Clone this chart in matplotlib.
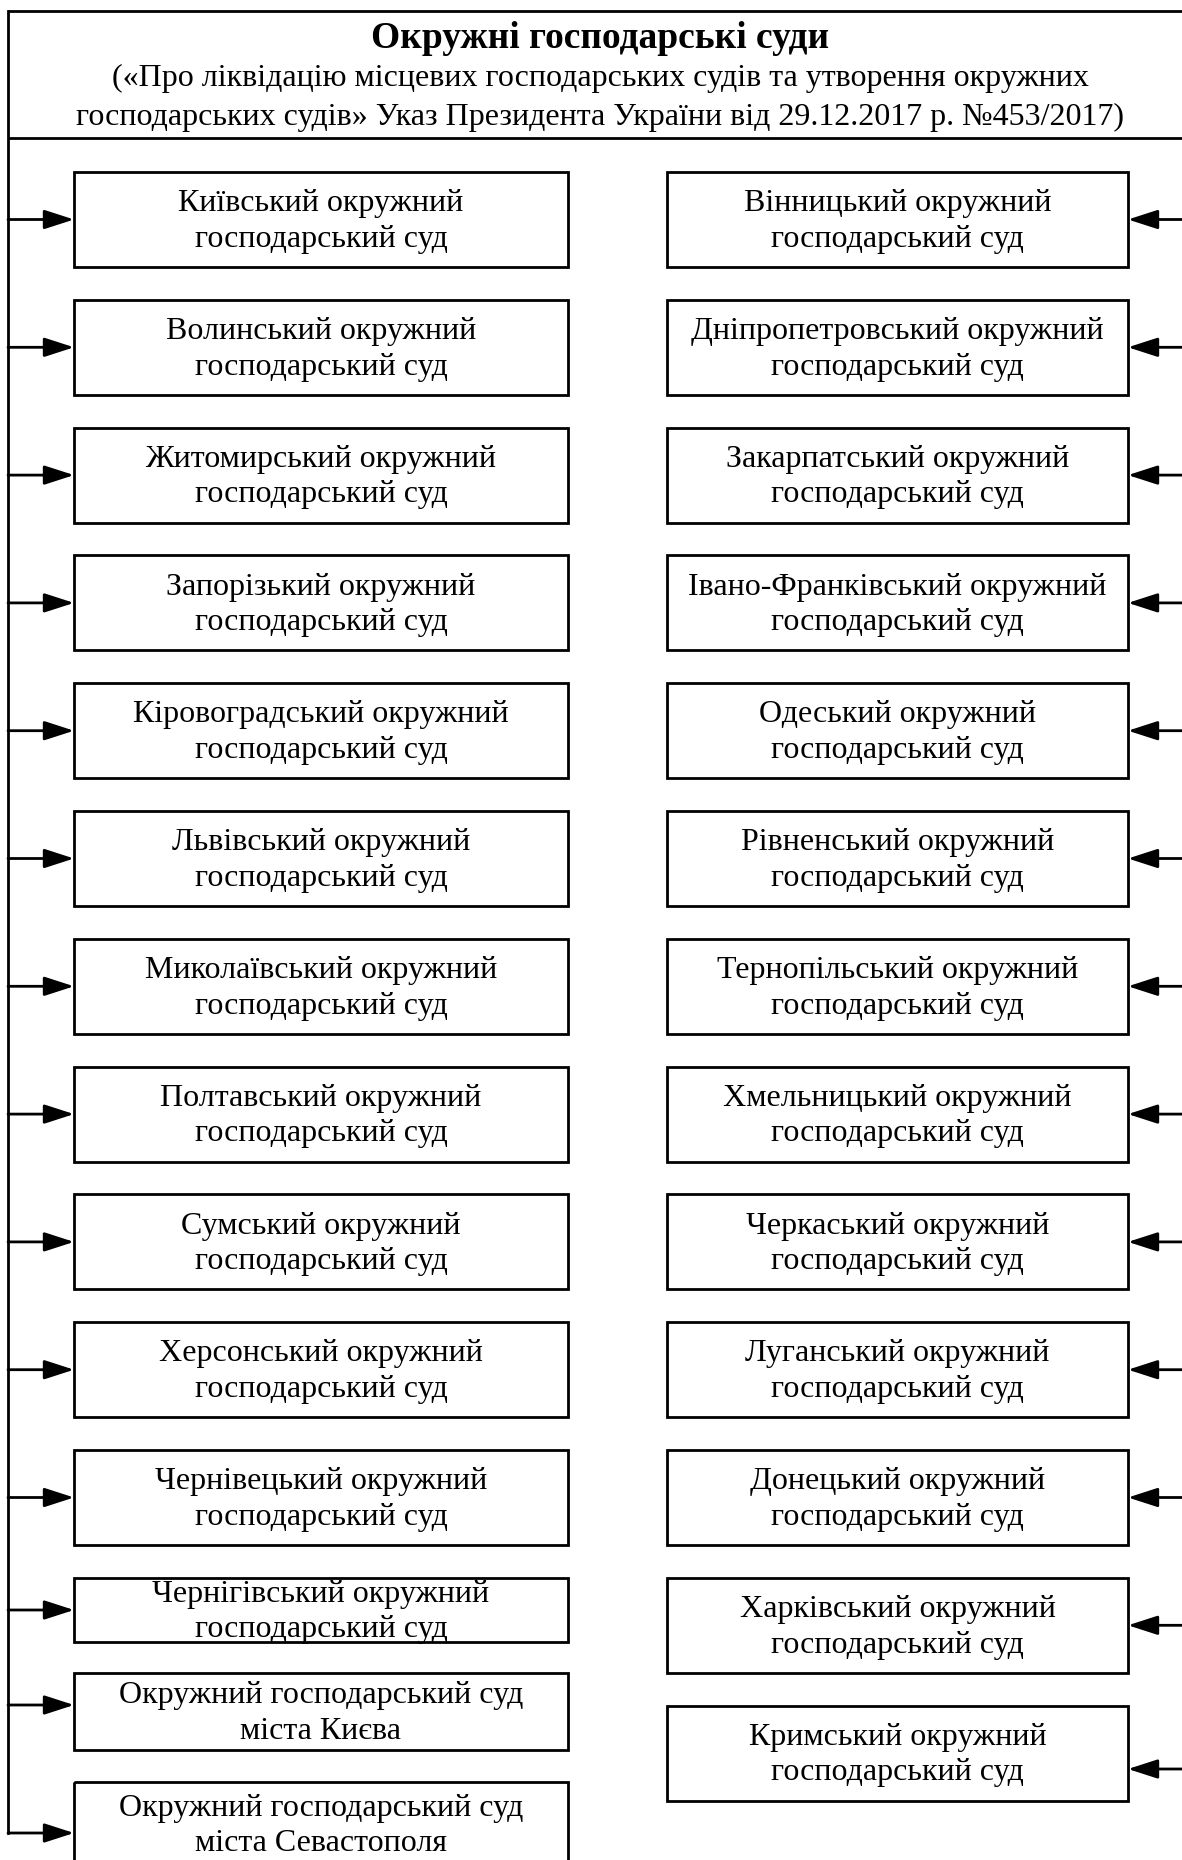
import matplotlib.pyplot as plt
from matplotlib.patches import Rectangle

plt.rcParams['font.family'] = ['Liberation Serif', 'DejaVu Serif']

title = 'Окружні господарські суди'
subtitle = ('(«Про ліквідацію місцевих господарських судів та утворення окружних\n'
            'господарських судів» Указ Президента України від 29.12.2017 р. №453/2017)')

left_courts = [
    'Київський окружний\nгосподарський суд',
    'Волинський окружний\nгосподарський суд',
    'Житомирський окружний\nгосподарський суд',
    'Запорізький окружний\nгосподарський суд',
    'Кіровоградський окружний\nгосподарський суд',
    'Львівський окружний\nгосподарський суд',
    'Миколаївський окружний\nгосподарський суд',
    'Полтавський окружний\nгосподарський суд',
    'Сумський окружний\nгосподарський суд',
    'Херсонський окружний\nгосподарський суд',
    'Чернівецький окружний\nгосподарський суд',
    'Чернігівський окружний\nгосподарський суд',
    'Окружний господарський суд\nміста Києва',
    'Окружний господарський суд\nміста Севастополя',
]
right_courts = [
    'Вінницький окружний\nгосподарський суд',
    'Дніпропетровський окружний\nгосподарський суд',
    'Закарпатський окружний\nгосподарський суд',
    'Івано-Франківський окружний\nгосподарський суд',
    'Одеський окружний\nгосподарський суд',
    'Рівненський окружний\nгосподарський суд',
    'Тернопільський окружний\nгосподарський суд',
    'Хмельницький окружний\nгосподарський суд',
    'Черкаський окружний\nгосподарський суд',
    'Луганський окружний\nгосподарський суд',
    'Донецький окружний\nгосподарський суд',
    'Харківський окружний\nгосподарський суд',
    'Кримський окружний\nгосподарський суд',
]

W, H = 1182, 1860
fig = plt.figure(figsize=(W / 100, H / 100), dpi=100)
ax = fig.add_axes([0, 0, 1, 1])
ax.set_xlim(0, W)
ax.set_ylim(H, 0)
ax.axis('off')

LW = 2.0
FS = 23
LS = 1.3
spine_x = 8
top_y, head_y = 11, 138

# header frame
ax.plot([spine_x, W], [top_y, top_y], color='black', lw=LW, solid_capstyle='butt')
ax.plot([spine_x, W], [head_y, head_y], color='black', lw=LW, solid_capstyle='butt')
ax.text(600, 38, title, ha='center', va='center', fontsize=27, fontweight='bold')
ax.text(600, 98, subtitle, ha='center', va='center', fontsize=FS, linespacing=1.42)

row_top, pitch, box_h = 172, 127.8, 95
# (top, height, arrow y) of each box
left_x0, left_x1 = 74, 568
right_x0, right_x1 = 667, 1128

left_rows = [(row_top + i * pitch, box_h, None) for i in range(11)]
left_rows += [(1578, 64, None), (1673, 77, 1705), (1782, 84, 1833)]
right_rows = [(row_top + i * pitch, box_h, None) for i in range(12)]
right_rows += [(row_top + 12 * pitch, box_h, 1769)]


def draw_box(x0, x1, top, h, label):
    ax.add_patch(Rectangle((x0, top), x1 - x0, h, fill=False,
                           edgecolor='black', lw=LW))
    ax.text((x0 + x1) / 2, top + h / 2 + 2, label, ha='center', va='center',
            fontsize=FS, linespacing=LS)


def arrow(x_from, x_to, y):
    ax.annotate('', xy=(x_to, y), xytext=(x_from, y),
                arrowprops=dict(arrowstyle='-|>,head_length=1.3,head_width=0.42',
                                mutation_scale=14, lw=LW, color='black',
                                shrinkA=0, shrinkB=0))


last_y = top_y
for label, (top, h, ay) in zip(left_courts, left_rows):
    draw_box(left_x0, left_x1, top, h, label)
    y = ay if ay is not None else top + h / 2
    arrow(spine_x, left_x0, y)
    last_y = y

for label, (top, h, ay) in zip(right_courts, right_rows):
    draw_box(right_x0, right_x1, top, h, label)
    y = ay if ay is not None else top + h / 2
    arrow(W + 5, right_x1, y)

ax.plot([spine_x, spine_x], [top_y, last_y], color='black', lw=LW,
        solid_capstyle='projecting')

fig.savefig('out.png', dpi=100)
